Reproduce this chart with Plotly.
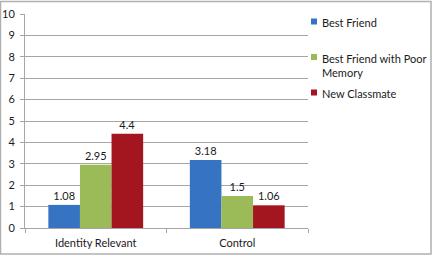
import plotly.graph_objects as go

categories = ["Identity Relevant", "Control"]
series_names = ["Best Friend", "Best Friend with Poor<br>Memory", "New Classmate"]
best_friend = [1.08, 3.18]
best_friend_poor_memory = [2.95, 1.5]
new_classmate = [4.4, 1.06]
label_text = [["1.08", "3.18"], ["2.95", "1.5"], ["4.4", "1.06"]]
colors = ["#3673C2", "#9BBB59", "#A3161F"]
y_ticks = list(range(0, 11))

W, H = 433, 256
L, R, T, B = 25, 125, 14, 28
pw, ph = W - L - R, H - T - B
FONT = "Lato"

def px2x(px):
    return (px - L) / pw

def py2y(py):
    return (H - B - py) / ph

fig = go.Figure()
for name, vals, txt, c in zip(series_names, [best_friend, best_friend_poor_memory, new_classmate],
                              label_text, colors):
    fig.add_trace(go.Bar(
        x=categories, y=vals, name=name, marker=dict(color=c, line=dict(width=0)),
        text=txt, textposition="outside", cliponaxis=False, showlegend=False,
        textfont=dict(size=11, color="#1a1a1a", family=FONT),
    ))

# legend drawn as swatches + text (Excel-style layout on the right)
legend_rows = [21.5, 57, 92.5]
shapes = [dict(type="rect", xref="paper", yref="paper",
               x0=px2x(0.5), x1=px2x(431), y0=py2y(254), y1=py2y(1.5),
               line=dict(color="#b0b0b0", width=1.5), layer="below")]
annotations = []
for name, c, row in zip(series_names, colors, legend_rows):
    shapes.append(dict(type="rect", xref="paper", yref="paper",
                       x0=px2x(311), x1=px2x(317), y0=py2y(row + 3), y1=py2y(row - 3),
                       fillcolor=c, line=dict(width=0)))
    annotations.append(dict(text=name, xref="paper", yref="paper", x=px2x(320), y=py2y(row - 7.5),
                            xanchor="left", yanchor="top", showarrow=False, align="left",
                            font=dict(size=11, color="#1a1a1a", family=FONT)))

fig.update_layout(
    width=W, height=H,
    margin=dict(l=L, r=R, t=T, b=B, autoexpand=False),
    paper_bgcolor="white", plot_bgcolor="white",
    barmode="group", bargap=0.33, bargroupgap=0,
    font=dict(family=FONT, size=11, color="#1a1a1a"),
    showlegend=False,
    yaxis=dict(range=[0, 10], tickvals=y_ticks, showgrid=True, gridcolor="#a6a6a6", gridwidth=1,
               showline=True, linecolor="#a6a6a6", ticks="outside", ticklen=4, tickcolor="#a6a6a6",
               tickfont=dict(size=11), zeroline=False, fixedrange=True, ticklabelstandoff=3),
    xaxis=dict(showline=True, linecolor="#a6a6a6", ticks="outside", tickson="boundaries",
               ticklen=4, tickcolor="#a6a6a6", tickfont=dict(size=11), fixedrange=True,
               ticklabelstandoff=5),
    shapes=shapes,
    annotations=annotations,
)

fig.write_html("out.html")
